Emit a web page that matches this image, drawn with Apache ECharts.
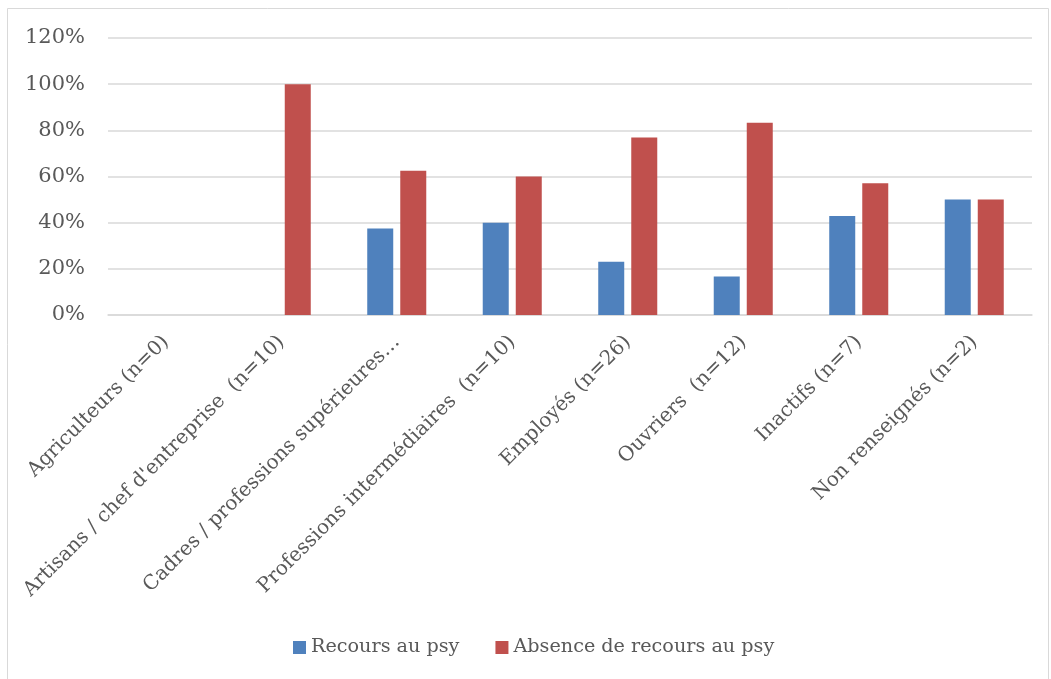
<!DOCTYPE html>
<html>
<head>
<meta charset="utf-8">
<script src="https://cdn.jsdelivr.net/npm/echarts@6/dist/echarts.min.js"></script>
<style>html,body{margin:0;padding:0;background:#fff}#c{width:1051px;height:679px}</style>
</head>
<body>
<div id="c"></div>
<script>
const categories = ["Agriculteurs (n=0)", "Artisans / chef d'entreprise  (n=10)", "Cadres / professions supérieures…", "Professions intermédiaires  (n=10)", "Employés (n=26)", "Ouvriers  (n=12)", "Inactifs (n=7)", "Non renseignés (n=2)"];
const recours = [0, 0, 37.5, 40, 23.1, 16.7, 42.9, 50];
const absence = [0, 100, 62.5, 60, 76.9, 83.3, 57.1, 50];
const seriesNames = ["Recours au psy", "Absence de recours au psy"];
const yTicks = [0, 20, 40, 60, 80, 100, 120];

const font = "DejaVu Serif";
const chart = echarts.init(document.getElementById('c'));
chart.setOption({
  animation: false,
  backgroundColor: '#fff',
  graphic: [{type: 'rect', shape: {x: 7.5, y: 8.5, width: 1041, height: 700}, style: {fill: 'none', stroke: '#d9d9d9', lineWidth: 1}, silent: true}],
  grid: {left: 108, right: 19, top: 38, bottom: 364},
  legend: {
    top: 633, left: 288,
    itemWidth: 13, itemHeight: 13, itemGap: 36,
    icon: 'rect',
    textStyle: {fontFamily: font, fontSize: 19.2, color: '#595959'},
    data: seriesNames
  },
  xAxis: {
    type: 'category', data: categories,
    axisLine: {lineStyle: {color: '#d9d9d9', width: 1.5}},
    axisTick: {show: false},
    axisLabel: {rotate: 45, interval: 0, margin: 24, fontFamily: font, fontSize: 20, color: '#595959'}
  },
  yAxis: {
    type: 'value', min: yTicks[0], max: yTicks[yTicks.length - 1], interval: 20,
    axisLine: {show: false}, axisTick: {show: false},
    splitLine: {lineStyle: {color: '#d9d9d9', width: 1.5}},
    axisLabel: {formatter: v => v + '%', margin: 23, fontFamily: font, fontSize: 21, color: '#595959'}
  },
  series: [
    {name: seriesNames[0], type: 'bar', data: recours, barWidth: 26, barGap: '27%', itemStyle: {color: '#4f81bd'}},
    {name: seriesNames[1], type: 'bar', data: absence, barWidth: 26, itemStyle: {color: '#c0504d'}}
  ]
});
</script>
</body>
</html>
